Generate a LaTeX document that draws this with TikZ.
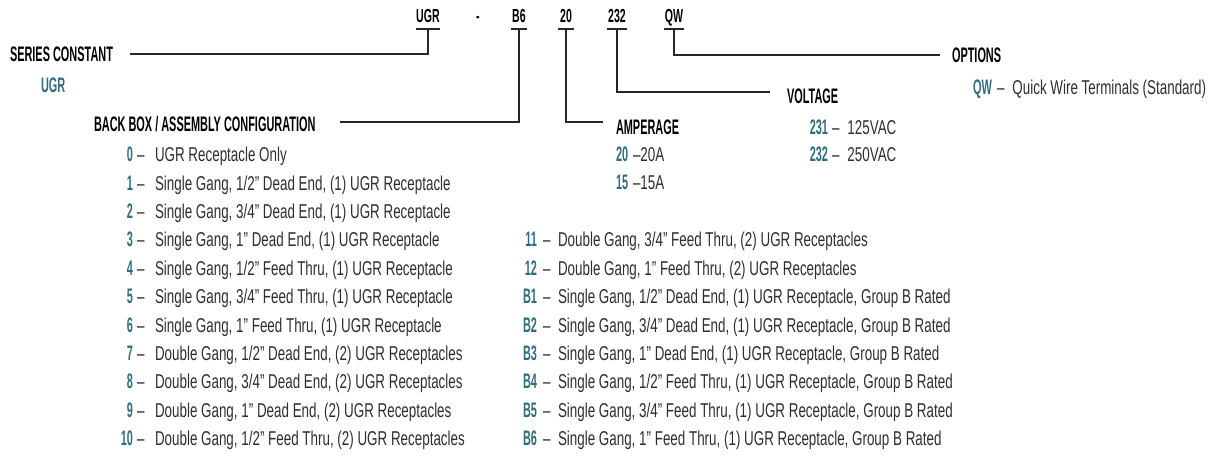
\documentclass[tikz,border=0pt]{standalone}
\usepackage{fontspec}
\setmainfont{Liberation Sans}
\newfontfamily\bodyf{Liberation Sans}[FakeStretch=0.67]
\newfontfamily\headf{Liberation Sans}[FakeStretch=0.52]
\newfontfamily\codef{Liberation Sans}[FakeStretch=0.56]
\definecolor{teal1}{HTML}{2F6E7E}
\definecolor{txt}{HTML}{2E2E2E}
\begin{document}
\begin{tikzpicture}[x={(1pt,0)},y={(0,-1pt)},
  every node/.style={inner sep=0pt,outer sep=0pt},
  code/.style={font=\codef\bfseries\fontsize{18.9}{20}\selectfont,text=black,anchor=base},
  head/.style={font=\headf\bfseries\fontsize{21}{23}\selectfont,text=black,text depth=0pt},
  num/.style={font=\headf\bfseries\fontsize{21}{23}\selectfont,text=teal1,anchor=base east},
  body/.style={font=\bodyf\fontsize{20}{22}\selectfont,text=txt,anchor=base west},
  conn/.style={line width=2pt,draw=black!85},
  bar/.style={line width=1.4pt,draw=black!85}]
\useasboundingbox (0,0) rectangle (1225,457);
% top code
\node[code] (cUGR) at (428,23) {UGR};
\node[code] (cDash) at (478,23) {-};
\node[code] (cB6) at (519,23) {B6};
\node[code] (c20) at (566,23) {20};
\node[code] (c232) at (617,23) {232};
\node[code] (cQW) at (674,23) {QW};
\foreach \n/\x/\w in {UGR/428/12,B6/519/8,20/566/8,232/617/10,QW/674/10}{
  \coordinate (b\n) at (\x,29);
  \draw[bar] (\x-\w,29) -- (\x+\w,29);
}
% headings
\node[head,anchor=west] (hSer) at (10,54) {SERIES CONSTANT};
\node[num,anchor=base west] (nUGR) at (41,93) {UGR};
\node[head,anchor=west] (hBack) at (94,124) {BACK BOX / ASSEMBLY CONFIGURATION};
\node[head,anchor=west] (hAmp) at (616,127) {AMPERAGE};
\node[head,anchor=west] (hVolt) at (787,96) {VOLTAGE};
\node[head,anchor=west] (hOpt) at (952,55) {OPTIONS};
% connectors
\coordinate (eSer) at (130,54);
\coordinate (eBack) at (340,122);
\coordinate (eAmp) at (603,122);
\coordinate (eVolt) at (770,92);
\coordinate (eOpt) at (940,55);
\draw[conn] (bUGR) |- (eSer);
\draw[conn] (bB6) |- (eBack);
\draw[conn] (b20) |- (eAmp);
\draw[conn] (b232) |- (eVolt);
\draw[conn] (bQW) |- (eOpt);
% amperage
\node[num,anchor=base west] (a20) at (616,161.5) {20};
\node[body] (a20t) at (633,161.5) {–20A};
\node[num,anchor=base west] (a15) at (616,189.5) {15};
\node[body] (a15t) at (633,189.5) {–15A};
% voltage
\node[num] (v231) at (828,134.5) {231};
\node[body] (v231t) at (832,134.5) {–\hspace{8pt}125VAC};
\node[num] (v232) at (828,161.5) {232};
\node[body] (v232t) at (832,161.5) {–\hspace{8pt}250VAC};
% options
\node[num,anchor=base west] (oQW) at (973,94.5) {QW};
\node[body] (oQWt) at (997,94.5) {–\hspace{8pt}Quick Wire Terminals (Standard)};
% left list
\foreach [count=\i from 0] \k/\t in {
  0/UGR Receptacle Only,
  1/{Single Gang, 1/2” Dead End, (1) UGR Receptacle},
  2/{Single Gang, 3/4” Dead End, (1) UGR Receptacle},
  3/{Single Gang, 1” Dead End, (1) UGR Receptacle},
  4/{Single Gang, 1/2” Feed Thru, (1) UGR Receptacle},
  5/{Single Gang, 3/4” Feed Thru, (1) UGR Receptacle},
  6/{Single Gang, 1” Feed Thru, (1) UGR Receptacle},
  7/{Double Gang, 1/2” Dead End, (2) UGR Receptacles},
  8/{Double Gang, 3/4” Dead End, (2) UGR Receptacles},
  9/{Double Gang, 1” Dead End, (2) UGR Receptacles},
  10/{Double Gang, 1/2” Feed Thru, (2) UGR Receptacles}}{
  \node[num] (L\k) at (133,161.7+28.4*\i) {\k};
  \node[body] (Ld\k) at (137,161.7+28.4*\i) {–};
  \node[body] (Lt\k) at (155,161.7+28.4*\i) {\t};
}
% right list
\foreach [count=\i from 3] \k/\t in {
  11/{Double Gang, 3/4” Feed Thru, (2) UGR Receptacles},
  12/{Double Gang, 1” Feed Thru, (2) UGR Receptacles},
  B1/{Single Gang, 1/2” Dead End, (1) UGR Receptacle, Group B Rated},
  B2/{Single Gang, 3/4” Dead End, (1) UGR Receptacle, Group B Rated},
  B3/{Single Gang, 1” Dead End, (1) UGR Receptacle, Group B Rated},
  B4/{Single Gang, 1/2” Feed Thru, (1) UGR Receptacle, Group B Rated},
  B5/{Single Gang, 3/4” Feed Thru, (1) UGR Receptacle, Group B Rated},
  B6/{Single Gang, 1” Feed Thru, (1) UGR Receptacle, Group B Rated}}{
  \node[num] (R\k) at (537,161.7+28.4*\i) {\k};
  \node[body] (Rd\k) at (543,161.7+28.4*\i) {–};
  \node[body] (Rt\k) at (558,161.7+28.4*\i) {\t};
}
\end{tikzpicture}
\end{document}
